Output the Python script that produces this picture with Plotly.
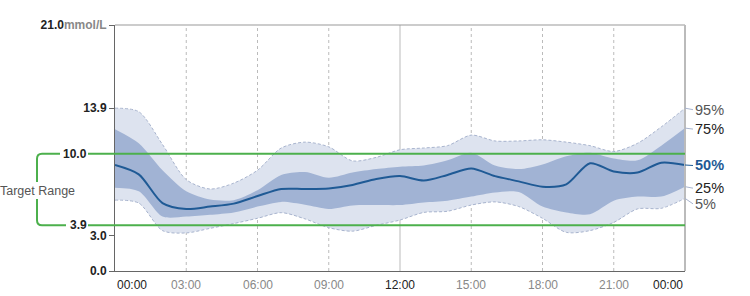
import plotly.graph_objects as go

# ---- data (mmol/L by hour of day) ----
hours = list(range(25))
p95 = [13.9, 13.6, 10.8, 7.8, 7.0, 7.5, 8.6, 10.5, 11.0, 10.6, 9.4, 9.7, 10.35,
       10.5, 10.7, 11.6, 11.1, 11.1, 11.2, 11.0, 10.7, 10.2, 10.9, 12.3, 13.9]
p75 = [12.1, 10.9, 8.6, 6.8, 6.1, 6.05, 6.9, 8.2, 8.45, 7.95, 8.4, 8.7, 8.9,
       9.0, 9.45, 10.1, 9.0, 8.7, 9.1, 9.8, 10.1, 9.6, 9.45, 10.7, 12.2]
p50 = [9.05, 8.25, 5.8, 5.3, 5.5, 5.75, 6.4, 7.0, 7.0, 7.05, 7.35, 7.85, 8.1,
       7.72, 8.2, 8.75, 8.1, 7.65, 7.2, 7.4, 9.2, 8.5, 8.4, 9.25, 9.05]
p25 = [7.1, 6.8, 4.65, 4.65, 4.8, 5.0, 5.5, 5.9, 5.65, 5.3, 5.6, 5.63, 5.63,
       5.85, 6.0, 6.35, 6.7, 6.75, 5.5, 5.0, 4.85, 6.0, 6.35, 6.35, 7.2]
p05 = [6.05, 5.8, 3.45, 3.25, 3.64, 4.05, 4.5, 4.98, 4.45, 3.7, 3.4, 3.9, 4.35,
       5.0, 5.1, 5.63, 5.9, 5.5, 4.5, 3.3, 3.45, 4.15, 5.3, 5.35, 6.2]

x_tick_hours = [0, 3, 6, 9, 12, 15, 18, 21, 24]
x_tick_labels = ["00:00", "03:00", "06:00", "09:00", "12:00", "15:00", "18:00", "21:00", "00:00"]
y_tick_vals = [0.0, 3.0, 13.9, 21.0]
y_tick_labels = ["0.0", "3.0", "13.9", "21.0"]
target_low, target_high = 3.9, 10.0
y_max = 21.0
pct_labels = ["95%", "75%", "50%", "25%", "5%"]

# ---- styles ----
LIGHT = "rgb(221,227,239)"
DARK = "rgb(161,179,212)"
EDGE = "rgb(168,180,206)"
MED = "#1f5a95"
GREEN = "#4cb04c"
FONT = "Liberation Sans, Arial, sans-serif"

W, H = 750, 296
L, R, T, B = 115, 65, 25, 25
PW, PH = W - L - R, H - T - B


def px(x):
    return (x - L) / PW


def py(y):
    return (H - B - y) / PH


fig = go.Figure()
fig.add_trace(go.Scatter(x=hours, y=p95, mode="lines",
                         line=dict(color=EDGE, width=1, dash="3px,2px", shape="spline", smoothing=0.8),
                         hoverinfo="skip", showlegend=False))
fig.add_trace(go.Scatter(x=hours, y=p05, mode="lines", fill="tonexty", fillcolor=LIGHT,
                         line=dict(color=EDGE, width=1, dash="3px,2px", shape="spline", smoothing=0.8),
                         hoverinfo="skip", showlegend=False))
fig.add_trace(go.Scatter(x=hours, y=p75, mode="lines",
                         line=dict(color=DARK, width=0, shape="spline", smoothing=0.8),
                         hoverinfo="skip", showlegend=False))
fig.add_trace(go.Scatter(x=hours, y=p25, mode="lines", fill="tonexty", fillcolor=DARK,
                         line=dict(color=DARK, width=0, shape="spline", smoothing=0.8),
                         hoverinfo="skip", showlegend=False))
fig.add_trace(go.Scatter(x=hours, y=p50, mode="lines",
                         line=dict(color=MED, width=2, shape="spline", smoothing=0.8),
                         hoverinfo="skip", showlegend=False))

shapes = []
# vertical grid lines
for h in x_tick_hours[1:-1]:
    shapes.append(dict(type="line", xref="x", yref="paper", x0=h, x1=h, y0=0, y1=1,
                       layer="below",
                       line=dict(color="#bbbbbb", width=1, dash="solid" if h == 12 else "3px,3px")))
# frame top and right
shapes.append(dict(type="line", xref="paper", yref="paper", x0=0, x1=1, y0=1, y1=1,
                   line=dict(color="#999999", width=1)))
shapes.append(dict(type="line", xref="paper", yref="paper", x0=1, x1=1, y0=0, y1=1,
                   line=dict(color="#bbbbbb", width=2)))
# target lines
for v in (target_high, target_low):
    shapes.append(dict(type="line", xref="paper", yref="paper", x0=px(88), x1=1,
                       y0=v / y_max, y1=v / y_max, layer="above",
                       line=dict(color=GREEN, width=2)))
# bracket
yt, yb = target_high / y_max, target_low / y_max
rx, ry = 5 / PW, 5 / PH
xv = px(37)
top_path = (f"M {px(60)},{yt} L {xv + rx},{yt} Q {xv},{yt} {xv},{yt - ry} "
            f"L {xv},{py(182)}")
bot_path = (f"M {xv},{py(199)} L {xv},{yb + ry} Q {xv},{yb} {xv + rx},{yb} "
            f"L {px(66)},{yb}")
for p in (top_path, bot_path):
    shapes.append(dict(type="path", xref="paper", yref="paper", path=p,
                       line=dict(color=GREEN, width=2)))

annotations = []
# x tick labels
for i, (h, lab) in enumerate(zip(x_tick_hours, x_tick_labels)):
    anchor = "left" if i == 0 else ("right" if i == len(x_tick_hours) - 1 else "center")
    col = "#222222" if h in (0, 12, 24) else "#888888"
    annotations.append(dict(x=h, y=0, xref="x", yref="paper", text=lab, showarrow=False,
                            xanchor=anchor, yanchor="middle", yshift=-14,
                            font=dict(size=12, color=col, family=FONT)))
# target labels
for v in (target_high, target_low):
    annotations.append(dict(x=px(89), y=v / y_max, xref="paper", yref="paper",
                            text=f"<b>{v:.1f}</b>", showarrow=False, xanchor="right",
                            yanchor="middle", font=dict(size=12, color="#222222", family=FONT)))
annotations.append(dict(x=px(-1), y=py(190.5), xref="paper", yref="paper", text="Target Range",
                        showarrow=False, xanchor="left", yanchor="middle", borderpad=0,
                        font=dict(size=12.5, color="#555555", family=FONT)))
# percentile labels
ends = [p95[-1], p75[-1], p50[-1], p25[-1], p05[-1]]
shifts = [-1.5, -1, -0.5, -1.5, -5.5]
colors = ["#555555", "#222222", MED, "#222222", "#555555"]
for lab, e, s, c in zip(pct_labels, ends, shifts, colors):
    txt = f"<b>{lab}</b>" if lab == "50%" else lab
    annotations.append(dict(x=px(693), y=e / y_max, xref="paper", yref="paper", text=txt,
                            showarrow=False, xanchor="left", yanchor="middle", yshift=s,
                            font=dict(size=14.5, color=c, family=FONT)))
    shapes.append(dict(type="line", xref="paper", yref="paper", x0=1, x1=px(693),
                       y0=e / y_max, y1=e / y_max + s / PH,
                       line=dict(color=EDGE if lab != "50%" else MED, width=1)))

y_text = [f"<b>{t}</b>" for t in y_tick_labels]
y_text[-1] = f"<b>{y_tick_labels[-1]}</b><b><span style='color:#888888'>mmol/L</span></b>"

fig.update_layout(
    width=W, height=H,
    margin=dict(l=L, r=R, t=T, b=B, pad=0),
    paper_bgcolor="white", plot_bgcolor="white",
    font=dict(family=FONT),
    xaxis=dict(range=[0, 24], showgrid=False, zeroline=False, showticklabels=False,
               showline=True, linecolor="#666666", linewidth=1, ticks="", fixedrange=True),
    yaxis=dict(range=[0, y_max], showgrid=False, zeroline=False,
               tickvals=y_tick_vals, ticktext=y_text, ticks="outside", ticklen=5,
               tickcolor="#666666", showline=True, linecolor="#666666", linewidth=1,
               tickfont=dict(size=12, color="#222222", family=FONT), fixedrange=True),
    shapes=shapes,
    annotations=annotations,
    showlegend=False,
)

fig.write_html("out.html")
